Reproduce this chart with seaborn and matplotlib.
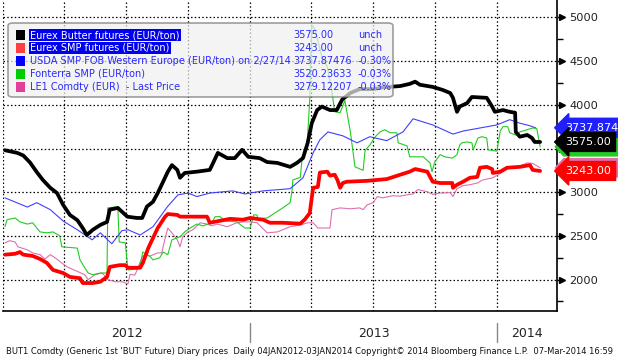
import numpy as np
import pandas as pd
import seaborn as sns
import matplotlib.pyplot as plt
import matplotlib.dates as mdates
import matplotlib.transforms as mtransforms
from matplotlib.patches import FancyBboxPatch, Rectangle, Polygon

# Series (EUR/ton)
butter_dates = ["2012-01-04", "2012-01-22", "2012-01-31", "2012-02-10", "2012-02-20", "2012-02-29",
                "2012-03-11", "2012-03-21", "2012-03-30", "2012-04-09", "2012-04-20", "2012-04-28",
                "2012-05-04", "2012-05-13", "2012-05-24", "2012-06-03", "2012-06-07", "2012-06-19",
                "2012-07-03", "2012-07-17", "2012-07-25", "2012-08-01", "2012-08-10", "2012-08-17",
                "2012-08-25", "2012-09-01", "2012-09-07", "2012-09-15", "2012-09-19", "2012-09-26",
                "2012-10-14", "2012-11-02", "2012-11-07", "2012-11-14", "2012-11-28", "2012-12-09",
                "2012-12-20", "2012-12-29", "2013-01-15", "2013-01-26", "2013-02-10", "2013-03-01",
                "2013-03-11", "2013-03-20", "2013-03-27", "2013-04-02", "2013-04-10", "2013-04-17",
                "2013-04-29", "2013-05-09", "2013-05-17", "2013-05-29", "2013-06-12", "2013-07-02",
                "2013-07-16", "2013-08-11", "2013-08-25", "2013-09-02", "2013-09-09", "2013-09-28",
                "2013-10-13", "2013-10-24", "2013-10-28", "2013-11-03", "2013-11-07", "2013-11-18",
                "2013-11-25", "2013-12-17", "2013-12-25", "2013-12-29", "2014-01-10", "2014-01-20",
                "2014-01-28", "2014-01-29", "2014-02-04", "2014-02-15", "2014-02-22", "2014-02-26",
                "2014-03-06"]
butter_vals = [3480, 3450, 3420, 3340, 3230, 3140, 3050, 2990, 2855, 2740, 2680, 2590,
               2510, 2570, 2625, 2660, 2800, 2820, 2720, 2705, 2705, 2835, 2890, 2990,
               3120, 3235, 3310, 3255, 3165, 3220, 3235, 3255, 3335, 3450, 3390, 3390,
               3485, 3405, 3390, 3345, 3335, 3290, 3335, 3390, 3565, 3790, 3940, 3980,
               3940, 3940, 4060, 4135, 4180, 4180, 4200, 4215, 4240, 4265, 4230, 4205,
               4170, 4135, 4080, 3920, 3980, 4020, 4090, 4080, 3980, 3920, 3940, 3920,
               3910, 3690, 3635, 3655, 3620, 3575, 3575]

smp_dates = ["2012-01-04", "2012-01-19", "2012-01-26", "2012-01-31", "2012-02-14", "2012-02-25",
             "2012-03-06", "2012-03-15", "2012-03-30", "2012-04-09", "2012-04-24", "2012-04-28",
             "2012-05-13", "2012-05-24", "2012-06-03", "2012-06-07", "2012-06-22", "2012-06-30",
             "2012-07-04", "2012-07-22", "2012-07-26", "2012-08-03", "2012-08-10", "2012-08-17",
             "2012-08-28", "2012-09-01", "2012-09-15", "2012-09-19", "2012-10-29", "2012-11-02",
             "2012-12-02", "2012-12-21", "2013-01-01", "2013-01-20", "2013-01-30", "2013-02-18",
             "2013-03-16", "2013-03-23", "2013-03-30", "2013-04-04", "2013-04-11", "2013-04-14",
             "2013-04-25", "2013-04-29", "2013-05-06", "2013-05-10", "2013-05-14", "2013-05-18",
             "2013-05-24", "2013-06-23", "2013-07-22", "2013-08-11", "2013-08-25", "2013-09-02",
             "2013-09-20", "2013-09-28", "2013-10-09", "2013-10-27", "2013-10-28", "2013-11-03",
             "2013-11-12", "2013-11-22", "2013-12-03", "2013-12-07", "2013-12-17", "2013-12-25",
             "2013-12-26", "2014-01-06", "2014-01-16", "2014-02-04", "2014-02-19", "2014-02-23",
             "2014-03-06"]
smp_vals = [2285, 2295, 2315, 2285, 2270, 2235, 2190, 2110, 2075, 2030, 2015, 1960,
            1960, 1975, 2030, 2145, 2165, 2165, 2135, 2135, 2190, 2360, 2475, 2590,
            2720, 2750, 2740, 2720, 2720, 2650, 2695, 2685, 2705, 2685, 2650, 2650,
            2640, 2690, 2760, 3050, 3060, 3225, 3235, 3190, 3200, 3140, 3050, 3105,
            3120, 3130, 3150, 3200, 3235, 3265, 3235, 3120, 3105, 3105, 3050, 3085,
            3120, 3165, 3175, 3280, 3290, 3265, 3220, 3235, 3280, 3290, 3310, 3255,
            3243]

usda_dates = ["2012-01-04", "2012-02-06", "2012-02-20", "2012-03-11", "2012-03-30", "2012-04-20",
              "2012-05-12", "2012-05-24", "2012-06-10", "2012-06-25", "2012-07-04", "2012-07-22",
              "2012-08-10", "2012-08-31", "2012-09-16", "2012-10-01", "2012-10-14", "2012-11-02",
              "2012-12-06", "2012-12-24", "2013-01-20", "2013-03-01", "2013-03-20", "2013-04-04",
              "2013-04-14", "2013-04-26", "2013-05-18", "2013-06-08", "2013-06-27", "2013-07-22",
              "2013-08-15", "2013-08-30", "2013-09-28", "2013-10-28", "2013-11-12", "2014-01-01",
              "2014-01-20", "2014-02-04", "2014-02-19", "2014-02-27"]
usda_vals = [2935, 2830, 2880, 2800, 2670, 2570, 2455, 2535, 2410, 2560, 2570, 2510,
             2605, 2830, 2970, 2990, 2950, 2990, 3015, 2980, 3015, 3040, 3165, 3450,
             3600, 3690, 3645, 3565, 3635, 3590, 3690, 3840, 3770, 3665, 3700, 3770,
             3830, 3790, 3760, 3738]

fonterra_dates = ["2012-01-04", "2012-01-07", "2012-01-19", "2012-01-26", "2012-02-06", "2012-02-14",
                  "2012-02-20", "2012-02-25", "2012-03-06", "2012-03-15", "2012-03-25", "2012-03-28",
                  "2012-04-20", "2012-04-24", "2012-05-01", "2012-05-06", "2012-05-13", "2012-05-24",
                  "2012-06-03", "2012-06-04", "2012-06-15", "2012-06-19", "2012-06-21", "2012-06-30",
                  "2012-07-04", "2012-07-17", "2012-07-22", "2012-07-26", "2012-08-06", "2012-08-10",
                  "2012-08-20", "2012-08-25", "2012-09-01", "2012-09-07", "2012-09-19", "2012-09-26",
                  "2012-10-04", "2012-10-14", "2012-10-23", "2012-11-05", "2012-11-10", "2012-11-17",
                  "2012-11-25", "2012-12-12", "2012-12-24", "2013-01-01", "2013-01-06", "2013-01-11",
                  "2013-01-12", "2013-01-26", "2013-02-10", "2013-02-18", "2013-03-01", "2013-03-04",
                  "2013-03-05", "2013-03-16", "2013-03-19", "2013-03-23", "2013-03-26", "2013-03-30",
                  "2013-04-02", "2013-04-07", "2013-04-17", "2013-04-25", "2013-05-02", "2013-05-06",
                  "2013-05-14", "2013-05-21", "2013-05-29", "2013-06-05", "2013-06-17", "2013-06-20",
                  "2013-06-27", "2013-07-05", "2013-07-12", "2013-07-19", "2013-07-27", "2013-08-06",
                  "2013-08-08", "2013-08-21", "2013-08-25", "2013-09-14", "2013-09-24", "2013-09-27",
                  "2013-10-01", "2013-10-09", "2013-10-16", "2013-10-27", "2013-11-03", "2013-11-07",
                  "2013-11-10", "2013-11-18", "2013-11-25", "2013-11-27", "2013-12-04", "2013-12-10",
                  "2013-12-17", "2013-12-19", "2014-01-01", "2014-01-06", "2014-01-10", "2014-01-17",
                  "2014-01-20", "2014-01-31", "2014-02-04", "2014-02-23", "2014-03-01", "2014-03-06"]
fonterra_vals = [2605, 2685, 2705, 2660, 2635, 2650, 2590, 2545, 2535, 2545, 2500, 2375,
                 2360, 2225, 2135, 2075, 2055, 2075, 2075, 2820, 2830, 2820, 2430, 2420,
                 2110, 2120, 2165, 2315, 2260, 2225, 2250, 2315, 2285, 2455, 2490, 2545,
                 2590, 2635, 2615, 2650, 2720, 2720, 2670, 2660, 2590, 2590, 2740, 2740,
                 2695, 2705, 2780, 2820, 2880, 3030, 3140, 3170, 3400, 3485, 3520, 4060,
                 4915, 4860, 4550, 4435, 4140, 3920, 3910, 4050, 3700, 3290, 3250, 3480,
                 3540, 3635, 3690, 3715, 3680, 3680, 3565, 3530, 3405, 3405, 3335, 3235,
                 3345, 3430, 3405, 3390, 3430, 3540, 3565, 3575, 3565, 3485, 3620, 3635,
                 3620, 3485, 3470, 3700, 3750, 3750, 3680, 3650, 3690, 3735, 3730, 3520]

le1_dates = ["2012-01-04", "2012-01-11", "2012-01-19", "2012-01-23", "2012-02-06", "2012-02-14",
             "2012-02-25", "2012-03-03", "2012-03-11", "2012-03-18", "2012-03-28", "2012-04-05",
             "2012-04-12", "2012-04-21", "2012-05-01", "2012-05-06", "2012-05-16", "2012-05-27",
             "2012-06-04", "2012-06-15", "2012-06-25", "2012-07-04", "2012-07-07", "2012-07-14",
             "2012-07-17", "2012-07-25", "2012-07-29", "2012-08-06", "2012-08-17", "2012-08-23",
             "2012-08-28", "2012-09-01", "2012-09-07", "2012-09-15", "2012-09-19", "2012-09-23",
             "2012-10-01", "2012-10-08", "2012-10-19", "2012-10-29", "2012-11-05", "2012-11-13",
             "2012-11-28", "2012-12-12", "2012-12-21", "2013-01-01", "2013-01-11", "2013-01-26",
             "2013-02-10", "2013-03-01", "2013-03-16", "2013-03-27", "2013-04-04", "2013-04-11",
             "2013-04-29", "2013-05-02", "2013-05-14", "2013-05-29", "2013-06-12", "2013-06-17",
             "2013-06-23", "2013-07-02", "2013-07-08", "2013-07-16", "2013-07-31", "2013-08-11",
             "2013-08-21", "2013-08-30", "2013-09-06", "2013-09-20", "2013-09-28", "2013-10-09",
             "2013-10-24", "2013-10-28", "2013-11-03", "2013-11-12", "2013-11-22", "2013-12-03",
             "2013-12-11", "2013-12-26", "2014-01-03", "2014-01-10", "2014-01-20", "2014-02-04",
             "2014-02-15", "2014-02-23", "2014-03-06"]
le1_vals = [2420, 2445, 2430, 2375, 2340, 2305, 2285, 2235, 2285, 2250, 2190, 2145,
            2120, 2090, 2055, 2000, 2055, 2075, 2000, 1975, 1975, 1950, 2060, 2050,
            2100, 2260, 2285, 2270, 2305, 2305, 2475, 2590, 2535, 2455, 2375, 2490,
            2545, 2570, 2650, 2635, 2615, 2635, 2605, 2650, 2660, 2660, 2650, 2535,
            2545, 2605, 2625, 2650, 2650, 2590, 2590, 2800, 2820, 2810, 2820, 2800,
            2855, 2880, 2950, 2935, 2960, 2955, 2970, 2980, 3030, 3005, 2975, 2990,
            2995, 2950, 3040, 3075, 3085, 3105, 3140, 3165, 3200, 3235, 3280, 3300,
            3335, 3330, 3280]

legend_labels = ["Eurex Butter futures (EUR/ton)", "Eurex SMP futures (EUR/ton)",
                 "USDA SMP FOB Western Europe (EUR/ton) on 2/27/14", "Fonterra SMP (EUR/ton)",
                 "LE1 Comdty (EUR)  - Last Price"]
last_values = ["3575.00", "3243.00", "3737.87476", "3520.23633", "3279.12207"]
last_changes = ["unch", "unch", "-0.30%", "-0.03%", "-0.03%"]
tag_values = [3575.00, 3243.00, 3737.87476, 3520.23633, 3279.12207]
tag_texts = ["3575.00", "3243.00", "3737.874", "", ""]  # green / pink tags sit hidden behind others
year_labels = ["2012", "2013", "2014"]
footer = ("BUT1 Comdty (Generic 1st 'BUT' Future) Diary prices  Daily 04JAN2012-03JAN2014 "
          "Copyright\u00a9 2014 Bloomberg Finance L.P.  07-Mar-2014 16:59")

sns.set_style("white")
plt.rcParams["font.family"] = ["DejaVu Sans"]

W, H = 618, 363
fig = plt.figure(figsize=(W / 100, H / 100), dpi=100)
ax = fig.add_axes([3 / W, 52 / H, 554 / W, 311 / H])

series = [
    (butter_dates, butter_vals, "black", 2.7, 4),
    (smp_dates, smp_vals, "#ff0000", 2.7, 4),
    (usda_dates, usda_vals, "#4040ff", 0.8, 3),
    (fonterra_dates, fonterra_vals, "#22cc22", 0.8, 3),
    (le1_dates, le1_vals, "#e070b0", 0.8, 3),
]
for i in [4, 3, 2, 1, 0]:
    d, v, c, lw, z = series[i]
    df = pd.DataFrame({"date": pd.to_datetime(d), "value": v})
    sns.lineplot(data=df, x="date", y="value", ax=ax, color=c, lw=lw,
                 estimator=None, sort=False, zorder=z)

x0, x1 = pd.Timestamp("2012-01-01"), pd.Timestamp("2014-03-31")
ax.set_xlim(x0, x1)
ax.set_ylim(1640, 5200)
ax.set_xlabel("")
ax.set_ylabel("")

# grid
ax.set_yticks(np.arange(2000, 5001, 500))
ax.set_yticks(np.arange(1750, 5200, 250), minor=True)
ax.xaxis.set_major_locator(mdates.MonthLocator(bymonth=[1, 4, 7, 10]))
ax.xaxis.set_minor_locator(mdates.MonthLocator())
ax.grid(True, which="major", color="black", linestyle=(0, (1.2, 1.8)), lw=0.9)
ax.set_axisbelow(True)

for s in ["left", "top"]:
    ax.spines[s].set_visible(False)
for s in ["right", "bottom"]:
    ax.spines[s].set_color("black")
    ax.spines[s].set_linewidth(1.2)

ax.yaxis.tick_right()
ax.tick_params(axis="y", which="major", direction="out", length=5, width=1,
               color="black", labelsize=8.2, pad=4, labelcolor="#222222")
ax.tick_params(axis="y", which="minor", direction="out", length=4, width=1, color="black")
ax.tick_params(axis="x", which="both", direction="out", length=3, width=1,
               color="black", labelbottom=False)

# arrow heads on the y ticks
arrow_tr = mtransforms.offset_copy(ax.get_yaxis_transform(), fig=fig, x=5, units="dots")
ax.plot([1.0] * 7, np.arange(2000, 5001, 500), ls="none", marker=">", ms=4,
        color="black", transform=arrow_tr, clip_on=False)

# year labels and separators
xa = ax.get_xaxis_transform()
year_starts = [pd.Timestamp(f"{y}-01-01") for y in year_labels] + [x1]
for k, lab in enumerate(year_labels):
    a, b = max(year_starts[k], x0), year_starts[k + 1]
    mid = a + (b - a) / 2
    ax.text(mid, -0.072, lab, transform=xa, ha="center", va="center",
            fontsize=9, color="#222222")
    if k > 0:
        ax.plot([year_starts[k], year_starts[k]], [-0.04, -0.1], transform=xa,
                color="#888888", lw=1, clip_on=False)

fig.text(6 / W, 1 - 352 / H, footer, fontsize=6.05, va="center", ha="left", color="#111111")

# last-value tags on the right axis
tag_colors = ["black", "#ff0000", "#2020ff", "#22cc22", "#e070b0"]
ya = ax.get_yaxis_transform()
for i in [4, 3, 2, 0, 1]:
    v = tag_values[i]
    if tag_texts[i]:
        ax.annotate(tag_texts[i], xy=(1.0, v), xycoords=ya,
                    xytext=(6, 0), textcoords="offset points", ha="left", va="center",
                    fontsize=8, color="white", annotation_clip=False, zorder=10,
                    bbox=dict(boxstyle="larrow,pad=0.4", fc=tag_colors[i], ec=tag_colors[i]))
    else:
        dy = 105
        ax.add_patch(Polygon([(0.997, v), (1.012, v + dy), (1.13, v + dy),
                              (1.13, v - dy), (1.012, v - dy)], closed=True,
                             transform=ya, fc=tag_colors[i], ec=tag_colors[i],
                             clip_on=False, zorder=10))

# legend box
fig.patches.append(FancyBboxPatch((8 / W, 1 - 97 / H), 385 / W, 74 / H,
                                  boxstyle="round,pad=0,rounding_size=0.008",
                                  transform=fig.transFigure, fc="#f0f0f0", alpha=0.7,
                                  ec="#777777", lw=1.2, zorder=20))
sq_colors = ["black", "#ff4040", "#0000ff", "#00cc00", "#e0409a"]
row_y = [35, 48, 61, 74, 87]
for k in range(5):
    yk = 1 - row_y[k] / H
    fig.patches.append(Rectangle((16 / W, yk - 4.5 / H), 9 / W, 9 / H, transform=fig.transFigure,
                                 fc=sq_colors[k], ec="none", zorder=21))
    hl = dict(fc="#0000ee", ec="none", pad=1) if k < 2 else None
    fig.text(30 / W, yk, legend_labels[k], fontsize=7, va="center", ha="left",
             color="white" if k < 2 else "#2a2aff", bbox=hl, zorder=22)
    fig.text(293 / W, yk, last_values[k], fontsize=7, va="center", ha="left",
             color="#2a2aff", zorder=22)
    fig.text(358 / W, yk, last_changes[k], fontsize=7, va="center", ha="left",
             color="#2a2aff", zorder=22)

fig.savefig("out.png", dpi=100)
